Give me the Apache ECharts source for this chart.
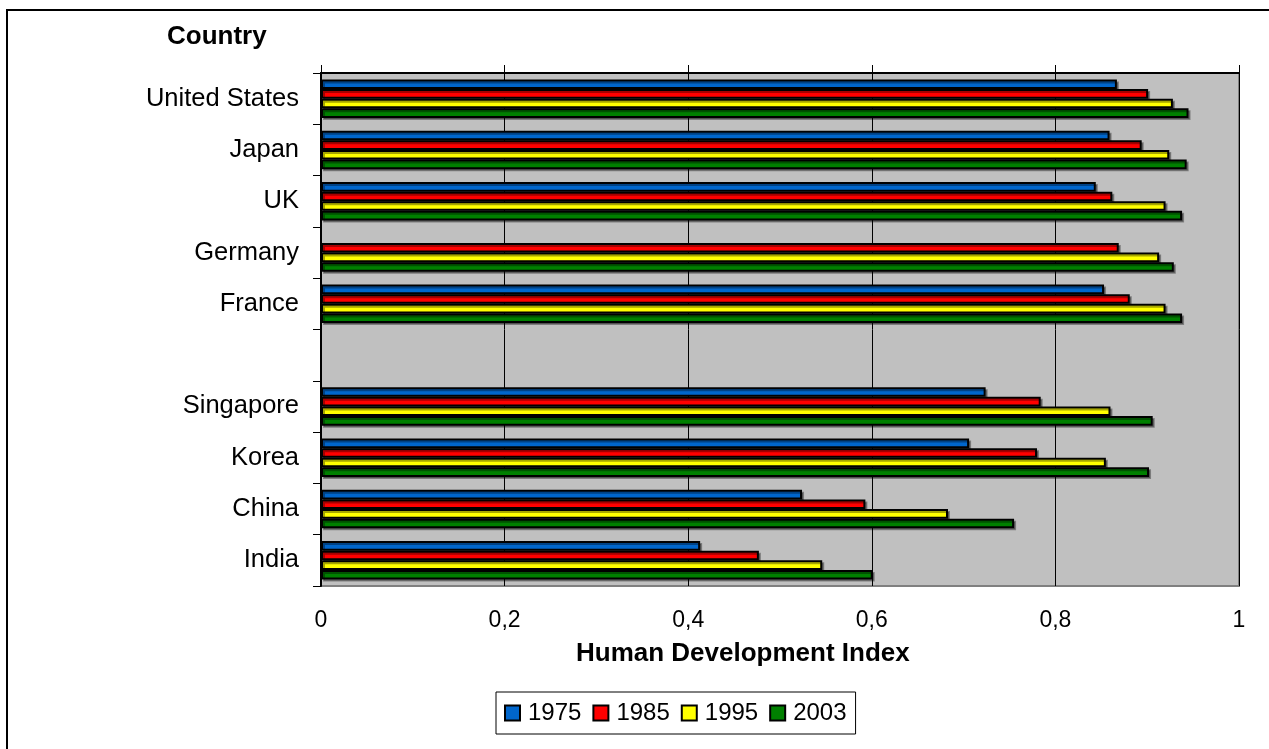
<!DOCTYPE html>
<html>
<head>
<meta charset="utf-8">
<script src="https://cdn.jsdelivr.net/npm/echarts@6/dist/echarts.min.js"></script>
<style>
  html, body { margin: 0; padding: 0; background: #fff; }
  #chart { width: 1269px; height: 749px; }
</style>
</head>
<body>
<div id="chart"></div>
<script>
// Countries from top to bottom; the blank entry separates the two groups
const countries = ['United States', 'Japan', 'UK', 'Germany', 'France', ' ', 'Singapore', 'Korea', 'China', 'India'];
const years = ['1975', '1985', '1995', '2003'];

// Human Development Index per country, one array per year ('-' = no value)
const hdi1975 = [0.867, 0.859, 0.844, '-', 0.853, '-', 0.724, 0.706, 0.524, 0.413];
const hdi1985 = [0.901, 0.894, 0.862, 0.869, 0.881, '-', 0.784, 0.780, 0.593, 0.477];
const hdi1995 = [0.928, 0.924, 0.920, 0.913, 0.920, '-', 0.860, 0.855, 0.683, 0.546];
const hdi2003 = [0.945, 0.943, 0.938, 0.929, 0.938, '-', 0.906, 0.902, 0.755, 0.601];

const xTicks = [0, 0.2, 0.4, 0.6, 0.8, 1];

const seriesValues = [hdi1975, hdi1985, hdi1995, hdi2003];
const seriesColors = ['#0066CC', '#FF0000', '#FFFF00', '#008000'];

const FONT = '"Liberation Sans", Arial, sans-serif';

const chart = echarts.init(document.getElementById('chart'));

chart.setOption({
  animation: false,
  backgroundColor: '#fff',
  graphic: [{
    type: 'rect',
    z: -10,
    shape: { x: 7, y: 10, width: 1300, height: 800 },
    style: { fill: 'none', stroke: '#000', lineWidth: 2 }
  }],
  title: [
    {
      text: 'Country',
      left: 167, top: 24,
      textStyle: { fontFamily: FONT, fontSize: 26, fontWeight: 'bold', color: '#000' },
      padding: 0
    },
    {
      text: 'Human Development Index',
      left: 576, top: 641,
      textStyle: { fontFamily: FONT, fontSize: 26, fontWeight: 'bold', color: '#000' },
      padding: 0
    }
  ],
  legend: {
    data: years,
    left: 496, top: 692,
    icon: 'rect',
    itemWidth: 15, itemHeight: 15,
    itemGap: 11,
    padding: [9, 9, 9, 8],
    borderColor: '#000', borderWidth: 1,
    textStyle: { fontFamily: FONT, fontSize: 24, color: '#000', padding: [0, 0, 0, 3] }
  },
  grid: {
    left: 321, top: 73, right: 30, bottom: 163,
    show: true,
    backgroundColor: '#C0C0C0',
    borderColor: '#808080', borderWidth: 2
  },
  xAxis: [
    {
      type: 'value', position: 'top',
      min: xTicks[0], max: xTicks[xTicks.length - 1], interval: 0.2,
      axisLine: { show: true, lineStyle: { color: '#000', width: 2 } },
      axisTick: { show: true, length: 8, inside: false, lineStyle: { color: '#000', width: 1 } },
      axisLabel: { show: false },
      splitLine: { show: true, lineStyle: { color: '#000', width: 1 } }
    },
    {
      type: 'value', position: 'bottom',
      min: xTicks[0], max: xTicks[xTicks.length - 1], interval: 0.2,
      axisLine: { show: false },
      axisTick: { show: false },
      splitLine: { show: false },
      axisLabel: {
        margin: 23,
        fontFamily: FONT, fontSize: 23, color: '#000',
        formatter: v => String(Math.round(v * 10) / 10).replace('.', ',')
      }
    }
  ],
  yAxis: {
    type: 'category',
    data: countries,
    inverse: true,
    axisLine: { show: true, lineStyle: { color: '#000', width: 2 } },
    axisTick: { show: true, length: 8, lineStyle: { color: '#000', width: 1 } },
    axisLabel: { margin: 22, fontFamily: FONT, fontSize: 25.5, color: '#000' },
    splitLine: { show: false }
  },
  series: years.map((y, i) => ({
    name: y,
    type: 'bar',
    xAxisIndex: 0,
    data: seriesValues[i],
    barGap: '0%',
    barCategoryGap: '25%',
    itemStyle: {
      color: seriesColors[i],
      borderColor: '#000',
      borderWidth: 2,
      shadowColor: 'rgba(0,0,0,0.35)',
      shadowOffsetX: 2, shadowOffsetY: 2, shadowBlur: 0
    }
  }))
});
</script>
</body>
</html>
